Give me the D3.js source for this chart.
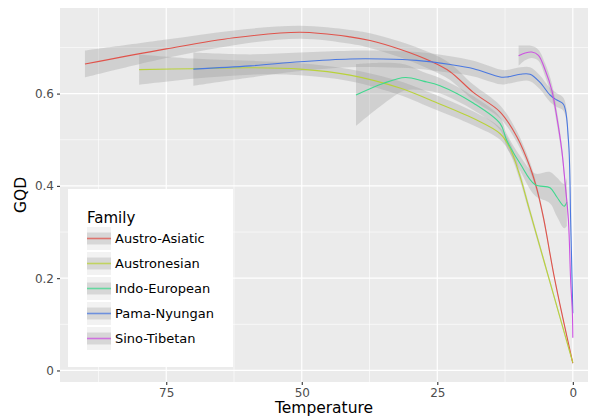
<!DOCTYPE html>
<html>
<head>
<meta charset="utf-8">
<script src="https://cdn.jsdelivr.net/npm/d3@7"></script>
<style>
  body { margin: 0; background: #fff; }
  text { font-family: "DejaVu Sans", sans-serif; }
</style>
</head>
<body>
<div id="chart"></div>
<script>
// values: [Temperature, GQD, half width of ribbon]
var families = ["Austro-Asiatic", "Austronesian", "Indo-European", "Pama-Nyungan", "Sino-Tibetan"];
var colors = ["#e0534b", "#b9d23a", "#3fd88e", "#4a78e0", "#cc50e2"];

var austroAsiatic = [
  [90, 0.664, 0.029], [75, 0.697, 0.02], [62.5, 0.721, 0.016], [50.3, 0.733, 0.014],
  [41.1, 0.723, 0.015], [37.4, 0.715, 0.016], [31.9, 0.696, 0.017], [26.4, 0.671, 0.018],
  [22.7, 0.648, 0.018], [18.3, 0.602, 0.017], [13.4, 0.560, 0.014], [10.3, 0.506, 0.012],
  [7.9, 0.441, 0.010], [6.6, 0.392, 0.008], [5.4, 0.330, 0.007], [3.3, 0.195, 0.005],
  [0, 0.016, 0.003]
];
var austronesian = [
  [80, 0.652, 0.033], [70.1, 0.654, 0.022], [59.5, 0.656, 0.015], [50.3, 0.653, 0.013],
  [41.1, 0.640, 0.013], [31.9, 0.612, 0.015], [26.3, 0.586, 0.016], [18.3, 0.546, 0.015],
  [13.4, 0.513, 0.013], [11.6, 0.482, 0.012], [9.7, 0.419, 0.010], [8.0, 0.348, 0.008],
  [4.2, 0.191, 0.005], [0, 0.017, 0.003]
];
var indoEuropean = [
  [40, 0.597, 0.067], [35, 0.622, 0.045], [30.9, 0.635, 0.028], [27.6, 0.627, 0.020],
  [24.5, 0.617, 0.017], [18.3, 0.579, 0.015], [13.4, 0.535, 0.014], [12.2, 0.499, 0.014],
  [9.7, 0.448, 0.016], [7.0, 0.403, 0.024], [4.2, 0.396, 0.034], [2.95, 0.376, 0.042],
  [1.6, 0.356, 0.048], [1.1, 0.365, 0.052]
];
var pamaNyungan = [
  [70, 0.653, 0.036], [59.5, 0.660, 0.025], [50.3, 0.669, 0.020], [41.1, 0.675, 0.018],
  [35, 0.675, 0.018], [28.8, 0.672, 0.018], [22.6, 0.663, 0.018], [18.3, 0.654, 0.017],
  [13.4, 0.636, 0.016], [12.2, 0.636, 0.015], [9.7, 0.642, 0.015], [7.9, 0.642, 0.015],
  [6.1, 0.625, 0.015], [4.2, 0.597, 0.015], [2.95, 0.586, 0.015], [1.73, 0.577, 0.014],
  [0.81, 0.499, 0.010], [0.4, 0.325, 0.005], [0, 0.124, 0.002]
];
var sinoTibetan = [
  [10, 0.682, 0.022], [8.8, 0.688, 0.016], [7.56, 0.690, 0.013], [6.35, 0.683, 0.012],
  [5.1, 0.651, 0.014], [3.87, 0.607, 0.015], [2.95, 0.549, 0.015], [2.03, 0.477, 0.012],
  [1.42, 0.405, 0.010], [0.81, 0.325, 0.008], [0.4, 0.195, 0.005], [0.08, 0.124, 0.003],
  [0, 0.071, 0.002]
];
var series = [austroAsiatic, austronesian, indoEuropean, pamaNyungan, sinoTibetan];

var xTicks = [75, 50, 25, 0];
var xMinor = [87.5, 62.5, 37.5, 12.5];
var yTicks = [0, 0.2, 0.4, 0.6];
var yMinor = [0.1, 0.3, 0.5, 0.7];

var w = 590, h = 416;
var padLeft = 60, padRight = 588, padTop = 8, padBottom = 382;

var svg = d3.select("#chart").append("svg")
  .attr("width", w)
  .attr("height", h);

var x = d3.scaleLinear().domain([94.6, -2.8]).range([padLeft, padRight]);
var y = d3.scaleLinear().domain([-0.025, 0.7855]).range([padBottom, padTop]);

// panel
svg.append("rect")
  .attr("x", padLeft).attr("y", padTop)
  .attr("width", padRight - padLeft).attr("height", padBottom - padTop)
  .attr("fill", "#ebebeb");

svg.selectAll(".xminor").data(xMinor).enter().append("line")
  .attr("x1", function(d) { return x(d); }).attr("x2", function(d) { return x(d); })
  .attr("y1", padTop).attr("y2", padBottom)
  .attr("stroke", "#fff").attr("stroke-width", 0.6);
svg.selectAll(".yminor").data(yMinor).enter().append("line")
  .attr("y1", function(d) { return y(d); }).attr("y2", function(d) { return y(d); })
  .attr("x1", padLeft).attr("x2", padRight)
  .attr("stroke", "#fff").attr("stroke-width", 0.6);
svg.selectAll(".xmajor").data(xTicks).enter().append("line")
  .attr("x1", function(d) { return x(d); }).attr("x2", function(d) { return x(d); })
  .attr("y1", padTop).attr("y2", padBottom)
  .attr("stroke", "#fff").attr("stroke-width", 1.2);
svg.selectAll(".ymajor").data(yTicks).enter().append("line")
  .attr("y1", function(d) { return y(d); }).attr("y2", function(d) { return y(d); })
  .attr("x1", padLeft).attr("x2", padRight)
  .attr("stroke", "#fff").attr("stroke-width", 1.2);

var ribbon = d3.area()
  .x(function(d) { return x(d[0]); })
  .y0(function(d) { return y(d[1] - d[2]); })
  .y1(function(d) { return y(d[1] + d[2]); })
  .curve(d3.curveCatmullRom.alpha(0.5));
var line = d3.line()
  .x(function(d) { return x(d[0]); })
  .y(function(d) { return y(d[1]); })
  .curve(d3.curveCatmullRom.alpha(0.5));

series.forEach(function(s) {
  svg.append("path")
    .attr("d", ribbon(s))
    .attr("fill", "#999999")
    .attr("fill-opacity", 0.32);
});
series.forEach(function(s, i) {
  svg.append("path")
    .attr("d", line(s))
    .attr("fill", "none")
    .attr("stroke", colors[i])
    .attr("stroke-width", 1.1);
});

// axes
var xAxis = d3.axisBottom(x).tickValues(xTicks).tickSize(3).tickPadding(3)
  .tickFormat(d3.format("d"));
var gx = svg.append("g")
  .attr("transform", "translate(0," + padBottom + ")")
  .call(xAxis);
var yAxis = d3.axisLeft(y).tickValues(yTicks).tickSize(3).tickPadding(3)
  .tickFormat(function(d) { return d === 0 ? "0" : d3.format(".1f")(d); });
var gy = svg.append("g")
  .attr("transform", "translate(" + padLeft + ",0)")
  .call(yAxis);
[gx, gy].forEach(function(g) {
  g.select(".domain").remove();
  g.selectAll(".tick line").attr("stroke", "#333").attr("stroke-width", 1.1);
  g.selectAll(".tick text").attr("fill", "#4d4d4d")
    .style("font-size", "12px").style("font-family", "DejaVu Sans, sans-serif");
});

svg.append("text")
  .attr("x", (padLeft + padRight) / 2).attr("y", 413)
  .attr("text-anchor", "middle")
  .style("font-size", "15.5px")
  .text("Temperature");
svg.append("text")
  .attr("transform", "translate(26," + (padTop + padBottom) / 2 + ") rotate(-90)")
  .attr("text-anchor", "middle")
  .style("font-size", "15.5px")
  .text("GQD");

// legend
var legend = svg.append("g");
legend.append("rect")
  .attr("x", 68).attr("y", 189)
  .attr("width", 165).attr("height", 178)
  .attr("fill", "#fff");
legend.append("text")
  .attr("x", 87).attr("y", 223)
  .style("font-size", "15px")
  .text("Family");

var keys = legend.selectAll(".key").data(families).enter().append("g")
  .attr("transform", function(d, i) { return "translate(87," + (227 + i * 25) + ")"; });
keys.append("rect")
  .attr("width", 24).attr("height", 23)
  .attr("fill", "#f2f2f2");
keys.append("rect")
  .attr("y", 5.5).attr("width", 24).attr("height", 12)
  .attr("fill", "#999999").attr("fill-opacity", 0.3);
keys.append("line")
  .attr("x1", 0).attr("x2", 24).attr("y1", 11.5).attr("y2", 11.5)
  .attr("stroke", function(d, i) { return colors[i]; })
  .attr("stroke-opacity", 0.75)
  .attr("stroke-width", 1.6);
keys.append("text")
  .attr("x", 28).attr("y", 16)
  .style("font-size", "13px")
  .text(function(d) { return d; });
</script>
</body>
</html>
